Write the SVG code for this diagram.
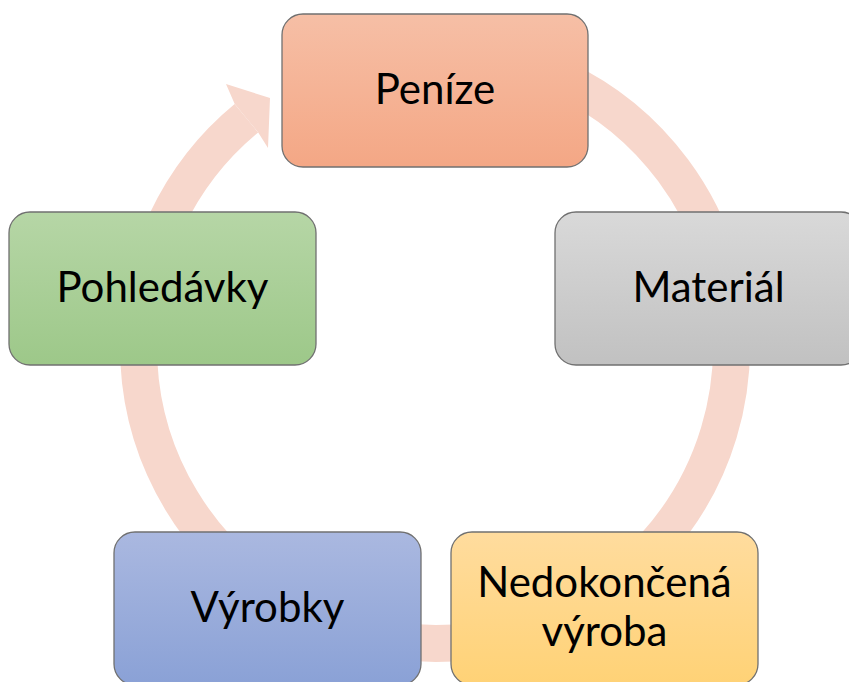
<svg xmlns="http://www.w3.org/2000/svg" width="849" height="682" viewBox="0 0 849 682">
  <defs>
    <linearGradient id="gPen" x1="0" y1="0" x2="0" y2="1">
      <stop offset="0" stop-color="#F6BFA6"/>
      <stop offset="1" stop-color="#F4A785"/>
    </linearGradient>
    <linearGradient id="gMat" x1="0" y1="0" x2="0" y2="1">
      <stop offset="0" stop-color="#D9D9D9"/>
      <stop offset="1" stop-color="#C1C1C1"/>
    </linearGradient>
    <linearGradient id="gNed" x1="0" y1="0" x2="0" y2="1">
      <stop offset="0" stop-color="#FFDC9E"/>
      <stop offset="1" stop-color="#FFD276"/>
    </linearGradient>
    <linearGradient id="gVyr" x1="0" y1="0" x2="0" y2="1">
      <stop offset="0" stop-color="#AAB8E0"/>
      <stop offset="1" stop-color="#8AA1D6"/>
    </linearGradient>
    <linearGradient id="gPoh" x1="0" y1="0" x2="0" y2="1">
      <stop offset="0" stop-color="#B6D6A6"/>
      <stop offset="1" stop-color="#9DC889"/>
    </linearGradient>
  </defs>
  <style>
    .box { stroke: #707070; stroke-width: 1.3; }
    .lbl { font-family: Lato, "Liberation Sans", sans-serif; font-size: 42px; fill: #000; text-anchor: middle; }
    .ring { fill: none; stroke: #F7D7CC; stroke-width: 37; }
    .head { fill: #F7D7CC; }
  </style>
  <g id="connectors">
    <path class="ring" d="M 435 50.5 A 296.5 296.5 0 1 1 246.4 118.2"/>
    <polygon class="head" points="234.6,103.8 226,84 270,98 268,148 258.2,132.4 246.4,118.2"/>
  </g>
  <g id="node-penize">
    <rect class="box" x="282" y="14" width="306" height="153" rx="21" fill="url(#gPen)"/>
    <text class="lbl" x="435" y="104">Peníze</text>
  </g>
  <g id="node-material">
    <rect class="box" x="555" y="212" width="307" height="153" rx="21" fill="url(#gMat)"/>
    <text class="lbl" x="708.5" y="302">Materiál</text>
  </g>
  <g id="node-nedokoncena">
    <rect class="box" x="451" y="532" width="307" height="153" rx="21" fill="url(#gNed)"/>
    <text class="lbl" x="604.5" y="597">Nedokončená</text>
    <text class="lbl" x="604.5" y="646">výroba</text>
  </g>
  <g id="node-vyrobky">
    <rect class="box" x="114" y="532" width="307" height="153" rx="21" fill="url(#gVyr)"/>
    <text class="lbl" x="267.5" y="622">Výrobky</text>
  </g>
  <g id="node-pohledavky">
    <rect class="box" x="9" y="212" width="307" height="153" rx="21" fill="url(#gPoh)"/>
    <text class="lbl" x="162.5" y="302">Pohledávky</text>
  </g>
</svg>
